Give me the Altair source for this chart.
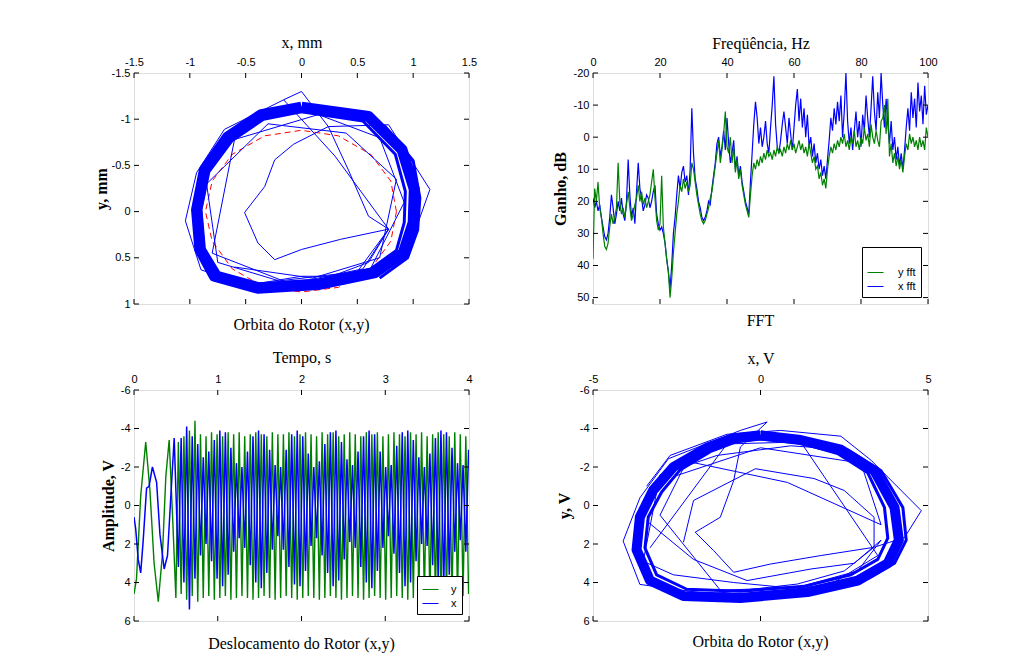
import altair as alt
import pandas as pd

W, H = 335, 231
BLUE = "#0000ff"
GREEN = "#008000"
RED = "#ff0000"
SERIF = "Liberation Serif"
SANS = "Liberation Sans"

# ---------------- tick values ----------------
XT_A = [-1.5, -1, -0.5, 0, 0.5, 1, 1.5]
YT_A = [-1.5, -1, -0.5, 0, 0.5, 1]
XT_B = [0, 20, 40, 60, 80, 100]
YT_B = [-20, -10, 0, 10, 20, 30, 40, 50]
XT_C = [0, 1, 2, 3, 4]
YT_C = [-6, -4, -2, 0, 2, 4, 6]
XT_D = [-5, 0, 5]
YT_D = [-6, -4, -2, 0, 2, 4, 6]

# ---------------- orbit in mm ----------------
RING_MM_X = [0.0, 0.6, 0.9, 1.01, 1.0, 0.91, 0.66, 0.15, -0.39, -0.78, -0.91, -0.94, -0.87, -0.66, -0.36, 0.0]
RING_MM_Y = [-1.13, -1.03, -0.67, -0.24, 0.12, 0.45, 0.66, 0.79, 0.83, 0.70, 0.41, -0.02, -0.45, -0.81, -1.05, -1.13]
MM_LOOP_X = [0.0, 0.55, 0.84, 0.93, 0.92, 0.85, 0.62, 0.15, -0.38, -0.74, -0.87, -0.90, -0.83, -0.62, -0.34, 0.0]
MM_LOOP_Y = [-1.08, -0.98, -0.62, -0.22, 0.12, 0.42, 0.62, 0.74, 0.78, 0.66, 0.40, -0.02, -0.43, -0.77, -1.0, -1.08]
MM_LOOP2_X = [0.3, 0.75, 1.0, 1.06, 1.04, 0.95, 0.7]
MM_LOOP2_Y = [-1.12, -0.92, -0.55, -0.15, 0.2, 0.5, 0.72]
MM_P1_X = [-0.51, -0.33, -0.24, -0.07, 0.24, 0.0, -0.16, -0.69, -0.94, -1.04, -0.90, -0.50, 0.0, 0.27, 0.60, 0.78, 0.60, 0.42, 0.24, 0.78, 1.15, 1.00, 0.85]
MM_P1_Y = [0.01, -0.27, -0.56, -0.73, -0.92, -1.30, -1.21, -0.89, -0.42, 0.10, 0.63, 0.80, 0.70, 0.70, 0.55, 0.19, 0.05, -0.45, -0.92, -0.94, -0.24, 0.27, 0.55]
MM_P2_X = [-0.51, -0.39, -0.24, 0.0, 0.35, 0.78, 0.50, -0.20, -0.75, -0.85, -0.30, 0.40, 0.85, 0.70, 0.10, -0.60]
MM_P2_Y = [0.01, 0.34, 0.52, 0.41, 0.30, 0.19, 0.65, 0.75, 0.55, -0.30, -0.95, -0.85, -0.35, 0.50, 0.72, 0.60]
MM_P3_X = [-0.16, 0.30, 0.78, 0.55, -0.10, -0.80, -0.60, 0.15, 0.70, 0.92, 0.60, -0.20]
MM_P3_Y = [-1.21, -0.60, 0.19, 0.62, 0.78, 0.45, -0.78, -1.05, -0.80, -0.10, 0.66, 0.80]
CIRC_X = [0.85, 0.80, 0.62, 0.33, 0.0, -0.33, -0.62, -0.80, -0.86, -0.80, -0.62, -0.33, 0.0, 0.33, 0.62, 0.80, 0.85]
CIRC_Y = [0.0, 0.32, 0.62, 0.82, 0.87, 0.82, 0.62, 0.32, 0.0, -0.33, -0.62, -0.82, -0.88, -0.82, -0.62, -0.33, 0.0]

# ---------------- orbit in V ----------------
RING_V_X = [0.0, 1.2, 2.4, 3.4, 4.0, 4.13, 3.8, 2.9, 1.4, -0.6, -2.3, -3.3, -3.7, -3.6, -3.2, -2.6, -1.6, -0.8, 0.0]
RING_V_Y = [-3.65, -3.4, -2.9, -1.8, 0.1, 1.8, 3.0, 3.9, 4.5, 4.8, 4.7, 3.9, 2.3, 0.6, -0.8, -2.0, -3.0, -3.5, -3.65]
V_LOOP_X = [0, 1.2, 2.3, 3.2, 3.7, 3.8, 3.5, 2.7, 1.3, -0.6, -2.2, -3.1, -3.45, -3.35, -2.95, -2.4, -1.5, -0.75, 0]
V_LOOP_Y = [-3.45, -3.25, -2.7, -1.7, 0.1, 1.7, 2.8, 3.6, 4.2, 4.45, 4.35, 3.6, 2.2, 0.6, -0.7, -1.85, -2.8, -3.3, -3.45]
V_LOOP2_X = [2.6, 3.6, 4.25, 4.35, 4.0, 3.2]
V_LOOP2_Y = [-2.9, -1.8, 0.1, 1.8, 3.0, 3.8]
V_P1_X = [-2.3, -2.0, -0.15, 1.6, 2.5, 3.39, 3.39, 1.8, 0.3, -0.8, -1.4, -1.95, -1.2, -0.8, -0.6, 0.2, -0.6, -2.75, -3.6, -4.1, -3.6, -1.5, 1.1, 2.5, 3.39, 4.3, 4.8, 3.3, 2.4, 0.6, -1.0, -2.7, -3.4]
V_P1_Y = [1.91, -0.26, -1.91, -1.4, -0.78, 0.61, 2.17, 2.6, 3.04, 3.47, 2.34, 1.39, 0.61, -1.3, -3.04, -4.34, -3.9, -2.43, -0.4, 1.85, 4.1, 4.6, 4.08, 3.4, 2.17, 1.66, 0.27, -2.35, -3.6, -3.9, -3.7, -2.6, -1.0]
V_P2_X = [-3.3, -1.0, 1.2, 3.5, 2.0, -1.2, -3.0, -2.2, 0.8, 3.6, 3.0, 0.0, -2.6]
V_P2_Y = [2.2, -3.2, -3.3, 2.6, 4.2, 4.4, 0.5, -2.3, -1.2, 1.0, -2.2, -3.0, -1.5]
V_P3_X = [-3.4, -2.0, -0.4, 1.5, 2.8, 3.6, 2.9, 1.0, -0.8, -2.6, -3.5, -3.0, -1.3, 0.9, 2.6]
V_P3_Y = [0.8, 2.8, 3.9, 3.3, 3.0, 1.8, 3.4, 4.3, 4.0, 3.6, 2.9, -1.6, -2.6, -3.1, -2.9]

# ---------------- time signals ----------------
T_X0 = [0.0, 0.02, 0.05, 0.08, 0.11, 0.15, 0.18, 0.22, 0.27, 0.31, 0.36, 0.40, 0.44, 0.48]
X0 = [0.6, 1.2, 2.8, 3.5, 1.8, -0.9, -1.0, -2.0, -1.2, 1.5, 3.3, 2.6, -0.5, -3.5]
T_Y0 = [0.0, 0.03, 0.08, 0.14, 0.19, 0.24, 0.29, 0.34, 0.38, 0.42, 0.46, 0.50]
Y0 = [4.6, 3.8, -0.5, -3.3, -0.8, 3.0, 5.0, 2.5, -1.5, -3.4, 0.5, 4.8]
T_FAST = [
    0.530, 0.563, 0.596, 0.629, 0.662, 0.695, 0.728, 0.761, 0.794, 0.827,
    0.860, 0.893, 0.926, 0.959, 0.992, 1.025, 1.058, 1.091, 1.124, 1.157,
    1.190, 1.223, 1.256, 1.289, 1.322, 1.355, 1.388, 1.421, 1.454, 1.487,
    1.520, 1.553, 1.586, 1.619, 1.652, 1.685, 1.718, 1.751, 1.784, 1.817,
    1.850, 1.883, 1.916, 1.949, 1.982, 2.015, 2.048, 2.081, 2.114, 2.147,
    2.180, 2.213, 2.246, 2.279, 2.312, 2.345, 2.378, 2.411, 2.444, 2.477,
    2.510, 2.543, 2.576, 2.609, 2.642, 2.675, 2.708, 2.741, 2.774, 2.807,
    2.840, 2.873, 2.906, 2.939, 2.972, 3.005, 3.038, 3.071, 3.104, 3.137,
    3.170, 3.203, 3.236, 3.269, 3.302, 3.335, 3.368, 3.401, 3.434, 3.467,
    3.500, 3.533, 3.566, 3.599, 3.632, 3.665, 3.698, 3.731, 3.764, 3.797,
    3.830, 3.863, 3.896, 3.929, 3.962, 3.995]
X_FAST = [
    3.2, -3.5, 4.0, -4.1, 5.4, -3.6, 3.8, -3.2, 2.6, -2.5,
    2.0, -2.8, 2.9, -3.4, 3.8, -3.9, 4.2, -3.8, 3.6, -3.0,
    2.4, -2.2, 1.7, -2.0, 2.2, -2.8, 3.1, -3.6, 4.0, -3.9,
    4.3, -3.7, 3.5, -2.9, 2.3, -2.1, 1.6, -2.0, 2.3, -2.9,
    3.2, -3.7, 4.1, -3.9, 4.2, -3.6, 3.4, -2.7, 2.1, -2.0,
    1.7, -2.3, 2.6, -3.2, 3.5, -3.8, 4.2, -3.9, 3.9, -3.3,
    2.8, -2.4, 1.9, -2.1, 2.2, -2.8, 3.2, -3.6, 4.0, -3.9,
    4.3, -3.7, 3.4, -2.8, 2.2, -2.0, 1.6, -2.1, 2.5, -3.1,
    3.5, -3.8, 4.2, -3.9, 4.0, -3.4, 2.9, -2.5, 2.0, -2.0,
    2.1, -2.7, 3.1, -3.5, 3.9, -3.9, 4.3, -3.8, 3.6, -3.0,
    2.4, -2.2, 1.8, -2.1, 2.4, -2.9]
Y_FAST = [
    -3.3, 4.6, -3.6, 4.9, -3.9, 4.7, -4.4, 5.0, -3.7, 4.8,
    -3.6, 4.7, -3.8, 4.9, -3.7, 4.8, -3.6, 4.7, -3.8, 4.9,
    -3.7, 4.8, -3.8, 4.7, -3.6, 4.8, -3.7, 4.9, -3.8, 4.8,
    -3.7, 4.7, -3.6, 4.8, -3.8, 4.9, -3.7, 4.8, -3.7, 4.7,
    -3.8, 4.8, -3.6, 4.9, -3.7, 4.8, -3.8, 4.7, -3.7, 4.8,
    -3.6, 4.9, -3.8, 4.8, -3.7, 4.7, -3.8, 4.8, -3.6, 4.9,
    -3.7, 4.8, -3.8, 4.7, -3.7, 4.8, -3.6, 4.9, -3.8, 4.8,
    -3.7, 4.7, -3.8, 4.8, -3.6, 4.9, -3.7, 4.8, -3.8, 4.7,
    -3.7, 4.8, -3.6, 4.9, -3.8, 4.8, -3.7, 4.7, -3.8, 4.8,
    -3.6, 4.9, -3.7, 4.8, -3.8, 4.7, -3.7, 4.8, -3.6, 4.9,
    -3.8, 4.8, -3.7, 4.7, -3.6, 4.6]

# ---------------- FFT ----------------
FREQ = [
    0, 0.5, 1, 1.5, 2, 2.5, 3, 3.5, 4, 4.5,
    5, 5.5, 6, 6.5, 7, 7.5, 8, 8.5, 9, 9.5,
    10, 10.5, 11, 11.5, 12, 12.5, 13, 13.5, 14, 14.5,
    15, 15.5, 16, 16.5, 17, 17.5, 18, 18.5, 19, 19.5,
    20, 20.5, 21, 21.5, 22, 22.5, 23, 23.5, 24, 24.5,
    25, 25.5, 26, 26.5, 27, 27.5, 28, 28.5, 29, 29.5,
    30, 30.5, 31, 31.5, 32, 32.5, 33, 33.5, 34, 34.5,
    35, 35.5, 36, 36.5, 37, 37.5, 38, 38.5, 39, 39.5,
    40, 40.5, 41, 41.5, 42, 42.5, 43, 43.5, 44, 44.5,
    45, 45.5, 46, 46.5, 47, 47.5, 48, 48.5, 49, 49.5,
    50, 50.5, 51, 51.5, 52, 52.5, 53, 53.5, 54, 54.5,
    55, 55.5, 56, 56.5, 57, 57.5, 58, 58.5, 59, 59.5,
    60, 60.5, 61, 61.5, 62, 62.5, 63, 63.5, 64, 64.5,
    65, 65.5, 66, 66.5, 67, 67.5, 68, 68.5, 69, 69.5,
    70, 70.5, 71, 71.5, 72, 72.5, 73, 73.5, 74, 74.5,
    75, 75.5, 76, 76.5, 77, 77.5, 78, 78.5, 79, 79.5,
    80, 80.5, 81, 81.5, 82, 82.5, 83, 83.5, 84, 84.5,
    85, 85.5, 86, 86.5, 87, 87.5, 88, 88.5, 89, 89.5,
    90, 90.5, 91, 91.5, 92, 92.5, 93, 93.5, 94, 94.5,
    95, 95.5, 96, 96.5, 97, 97.5, 98, 98.5, 99, 99.5,
    100]
FFT_X = [
    19, 22, 20, 23, 21, 25, 28, 31, 32, 30,
    25, 18, 22, 27, 24, 20, 23, 19, 24, 26,
    20, 7, 18, 25, 22, 27, 17, 8, 16, 19,
    23, 21, 18, 19, 22, 20, 17, 15, 24, 27,
    29, 28, 30, 33, 38, 42, 47, 40, 30, 25,
    18, 12, 16, 11, 9, 14, 12, 18, 10, -9,
    5, 13, 16, 20, 22, 25, 26, 25, 23, 20,
    21, 16, 12, 8, 2, 0, 6, 3, -2, 4,
    -6, 2, 8, 5, 1, 10, 6, 12, 9, 14,
    17, 20, 22, 24, 14, 5, -4, -11, -6, 2,
    -3, 3, 0, -5, 2, 5, -3, -10, -19, -4,
    3, 5, 1, -4, -8, -3, 2, -6, -1, 4,
    -3, -10, -15, -5, -12, -3, -9, 0, -7, 3,
    0, 6, 2, 8, 5, 10, 7, 12, 9, 13,
    7, 1, -6, -2, -9, -4, -11, -5, -13, 0,
    -8, -20, -5, 2, -3, 4, -2, -8, 0, -5,
    3, -7, -2, -13, -6, 0, -9, -19, -8, -2,
    -14, -6, -20, -10, -3, -12, -4, 2, -5, 4,
    0, 7, 3, 9, 5, 10, 4, -3, -9, -2,
    -14, -6, -12, -3, -17, -8, -13, -4, -16, -7,
    -10]
FFT_Y = [
    38, 16, 20, 14, 22, 25, 30, 34, 35, 33,
    28, 24, 27, 25, 22, 8, 20, 24, 22, 25,
    21, 17, 22, 26, 24, 21, 19, 15, 20, 17,
    21, 19, 22, 20, 18, 14, 10, 19, 26, 29,
    27, 12, 28, 33, 38, 42, 50, 44, 36, 30,
    24, 20, 15, 17, 13, 16, 14, 17, 15, 8,
    10, 14, 18, 21, 24, 26, 27, 26, 24, 22,
    19, 17, 13, 9, 5, 1, 8, 4, -1, -8,
    3, 5, 0, 8, 3, 11, 7, 13, 10, 15,
    18, 21, 23, 25, 18, 12, 8, 10, 7, 9,
    6, 8, 5, 7, 4, 6, 5, 7, 4, 6,
    3, 5, 4, 6, 3, 5, 2, 4, 1, 4,
    2, 5, 3, 1, 4, 2, 5, 3, 6, 2,
    5, 8, 6, 10, 9, 13, 11, 15, 13, 16,
    10, 6, 3, 5, 2, 4, 1, 3, 0, 2,
    -1, 3, 1, 4, 0, 2, -2, 3, 1, 4,
    0, 2, -3, 1, -1, 3, -4, 0, 2, -2,
    1, 3, -5, -6, -10, -1, -12, 6, 2, 8,
    5, 9, 6, 10, 7, 11, 6, 2, 4, -1,
    2, 0, 3, 1, 4, 0, 3, 1, 4, -3,
    0]


# ---------------- helpers ----------------
def paths_df(*paths):
    rows = []
    for gid, (xs, ys) in enumerate(paths):
        assert len(xs) == len(ys)
        for i, (a, b) in enumerate(zip(xs, ys)):
            rows.append({"x": a, "y": b, "g": gid, "i": i})
    return pd.DataFrame(rows)


def sc(domain, reverse=False):
    return alt.Scale(domain=domain, reverse=reverse, nice=False, zero=False)


LBL = "'' + datum.value"


def x_axis(title, values, tpad):
    return alt.Axis(title=title, orient="top", values=values, ticks=False,
                    domain=False, grid=False, labelExpr=LBL, labelFont=SANS, labelFontSize=11,
                    labelColor="black", labelPadding=6, labelFlush=False, labelOverlap=False,
                    titleFont=SERIF, titleFontSize=16, titleFontWeight="normal", titleColor="black",
                    titlePadding=tpad)


def y_axis(title, values, tpad):
    return alt.Axis(title=title, orient="left", values=values, ticks=False,
                    domain=False, grid=False, labelExpr=LBL, labelFont=SANS, labelFontSize=11,
                    labelColor="black", labelPadding=4, labelFlush=False, labelOverlap=False,
                    titleFont=SERIF, titleFontSize=16, titleFontWeight="bold", titleColor="black",
                    titlePadding=tpad)


def tick_marks(xvals, yvals, xs, ys, xa, ya):
    # inward ticks on all four sides (same shared axes as the data layers)
    dx = pd.DataFrame({"tv": xvals})
    dy = pd.DataFrame({"tv": yvals})
    bx = alt.Chart(dx).mark_rule(color="black", strokeWidth=1)
    by = alt.Chart(dy).mark_rule(color="black", strokeWidth=1)
    return [
        bx.encode(x=alt.X("tv:Q", scale=xs, axis=xa), y=alt.value(0), y2=alt.value(5)),
        bx.encode(x=alt.X("tv:Q", scale=xs, axis=xa), y=alt.value(H), y2=alt.value(H - 5)),
        by.encode(y=alt.Y("tv:Q", scale=ys, axis=ya), x=alt.value(0), x2=alt.value(5)),
        by.encode(y=alt.Y("tv:Q", scale=ys, axis=ya), x=alt.value(W), x2=alt.value(W - 5)),
    ]


def ptitle(text, off):
    return alt.TitleParams(text, orient="bottom", frame="group", anchor="middle", font=SERIF,
                           fontSize=16, fontWeight="normal", color="black", offset=off)


def orbit_enc(xs, ys, xa, ya):
    return dict(
        x=alt.X("x:Q", scale=xs, axis=xa),
        y=alt.Y("y:Q", scale=ys, axis=ya),
        order=alt.Order("i:Q"),
        detail=alt.Detail("g:N"),
    )


# ---------------- Panel A: orbit mm ----------------
xsA, ysA = sc([-1.5, 1.5]), sc([-1.5, 1], reverse=True)
axA_x, axA_y = x_axis("x, mm", XT_A, 6), y_axis("y, mm", YT_A, 2)
A_circ = alt.Chart(paths_df((CIRC_X, CIRC_Y))).mark_line(
    color=RED, strokeWidth=1, strokeDash=[6, 4], clip=True).encode(**orbit_enc(xsA, ysA, axA_x, axA_y))
A_ring = alt.Chart(paths_df((RING_MM_X, RING_MM_Y))).mark_line(
    color=BLUE, strokeWidth=11, strokeJoin="round", clip=True).encode(**orbit_enc(xsA, ysA, axA_x, axA_y))
A_loops = alt.Chart(paths_df((MM_LOOP_X, MM_LOOP_Y), (MM_LOOP2_X, MM_LOOP2_Y))).mark_line(
    color=BLUE, strokeWidth=3, strokeJoin="round", clip=True).encode(**orbit_enc(xsA, ysA, axA_x, axA_y))
A_paths = alt.Chart(paths_df((MM_P1_X, MM_P1_Y), (MM_P2_X, MM_P2_Y), (MM_P3_X, MM_P3_Y))).mark_line(
    color=BLUE, strokeWidth=1, clip=True).encode(**orbit_enc(xsA, ysA, axA_x, axA_y))
panelA = alt.layer(A_circ, A_ring, A_loops, A_paths,
                   *tick_marks(XT_A, YT_A, xsA, ysA, axA_x, axA_y)).properties(
    width=W, height=H, title=ptitle("Orbita do Rotor (x,y)", 8))

# ---------------- Panel B: FFT ----------------
xsB, ysB = sc([0, 100]), sc([-20, 52], reverse=True)
axB_x, axB_y = x_axis("Freqüência, Hz", XT_B, 5), y_axis("Ganho, dB", YT_B, 5)
colB = alt.Scale(domain=["y fft", "x fft"], range=[GREEN, BLUE])
legB = alt.Legend(title=" ", titleFontSize=10, titlePadding=2, orient="bottom-right", offset=7,
                  strokeColor="black", fillColor="white", padding=5, cornerRadius=0,
                  symbolType="stroke", symbolSize=256, symbolStrokeWidth=1, labelFont=SANS,
                  labelFontSize=11, labelColor="black", labelOffset=14, rowPadding=0)
dfB_x = pd.DataFrame({"f": FREQ, "v": FFT_X, "s": "x fft"})
dfB_y = pd.DataFrame({"f": FREQ, "v": FFT_Y, "s": "y fft"})
B_x = alt.Chart(dfB_x).mark_line(strokeWidth=1.2, clip=True).encode(
    x=alt.X("f:Q", scale=xsB, axis=axB_x), y=alt.Y("v:Q", scale=ysB, axis=axB_y),
    color=alt.Color("s:N", scale=colB, legend=legB))
B_y = alt.Chart(dfB_y).mark_line(strokeWidth=1.2, clip=True).encode(
    x=alt.X("f:Q", scale=xsB, axis=axB_x), y=alt.Y("v:Q", scale=ysB, axis=axB_y),
    color=alt.Color("s:N", scale=colB, legend=legB))
panelB = alt.layer(B_x, B_y, *tick_marks(XT_B, YT_B, xsB, ysB, axB_x, axB_y)).properties(
    width=W, height=H, title=ptitle("FFT", 8))

# ---------------- Panel C: time signals ----------------
xsC, ysC = sc([0, 4]), sc([-6, 6], reverse=True)
axC_x, axC_y = x_axis("Tempo, s", XT_C, 8), y_axis("Amplitude, V", YT_C, 4)
colC = alt.Scale(domain=["y", "x"], range=[GREEN, BLUE])
legC = alt.Legend(title=None, orient="bottom-right", offset=7, strokeColor="black", fillColor="white",
                  padding=5, cornerRadius=0, symbolType="stroke", symbolSize=256, symbolStrokeWidth=1,
                  labelFont=SANS, labelFontSize=11, labelColor="black", labelOffset=12, rowPadding=0)
dfC_y = pd.DataFrame({"t": T_Y0 + T_FAST, "v": Y0 + Y_FAST, "s": "y"})
dfC_x = pd.DataFrame({"t": T_X0 + T_FAST, "v": X0 + X_FAST, "s": "x"})
C_y = alt.Chart(dfC_y).mark_line(strokeWidth=1.4, clip=True).encode(
    x=alt.X("t:Q", scale=xsC, axis=axC_x), y=alt.Y("v:Q", scale=ysC, axis=axC_y),
    color=alt.Color("s:N", scale=colC, legend=legC))
C_x = alt.Chart(dfC_x).mark_line(strokeWidth=1.5, clip=True).encode(
    x=alt.X("t:Q", scale=xsC, axis=axC_x), y=alt.Y("v:Q", scale=ysC, axis=axC_y),
    color=alt.Color("s:N", scale=colC, legend=legC))
panelC = alt.layer(C_y, C_x, *tick_marks(XT_C, YT_C, xsC, ysC, axC_x, axC_y)).properties(
    width=W, height=H, title=ptitle("Deslocamento do Rotor (x,y)", 10))

# ---------------- Panel D: orbit V ----------------
xsD, ysD = sc([-5, 5]), sc([-6, 6], reverse=True)
axD_x, axD_y = x_axis("x, V", XT_D, 7), y_axis("y, V", YT_D, 7)
D_ring = alt.Chart(paths_df((RING_V_X, RING_V_Y))).mark_line(
    color=BLUE, strokeWidth=10, strokeJoin="round", clip=True).encode(**orbit_enc(xsD, ysD, axD_x, axD_y))
D_loops = alt.Chart(paths_df((V_LOOP_X, V_LOOP_Y), (V_LOOP2_X, V_LOOP2_Y))).mark_line(
    color=BLUE, strokeWidth=3, strokeJoin="round", clip=True).encode(**orbit_enc(xsD, ysD, axD_x, axD_y))
D_paths = alt.Chart(paths_df((V_P1_X, V_P1_Y), (V_P2_X, V_P2_Y), (V_P3_X, V_P3_Y))).mark_line(
    color=BLUE, strokeWidth=1, clip=True).encode(**orbit_enc(xsD, ysD, axD_x, axD_y))
panelD = alt.layer(D_ring, D_loops, D_paths,
                   *tick_marks(XT_D, YT_D, xsD, ysD, axD_x, axD_y)).properties(
    width=W, height=H, title=ptitle("Orbita do Rotor (x,y)", 8))

chart = alt.concat(panelA, panelB, panelC, panelD, columns=2,
                   spacing={"row": 86, "column": 124}, bounds="flush")
chart = chart.resolve_scale(color="independent").resolve_legend(color="independent")
chart = chart.properties(
    padding={"left": 84, "top": 25, "right": 5, "bottom": 5}
).configure_view(stroke="black", strokeWidth=1).configure(background="white")

chart.save("out.html", embed_options={"renderer": "svg", "actions": False})
